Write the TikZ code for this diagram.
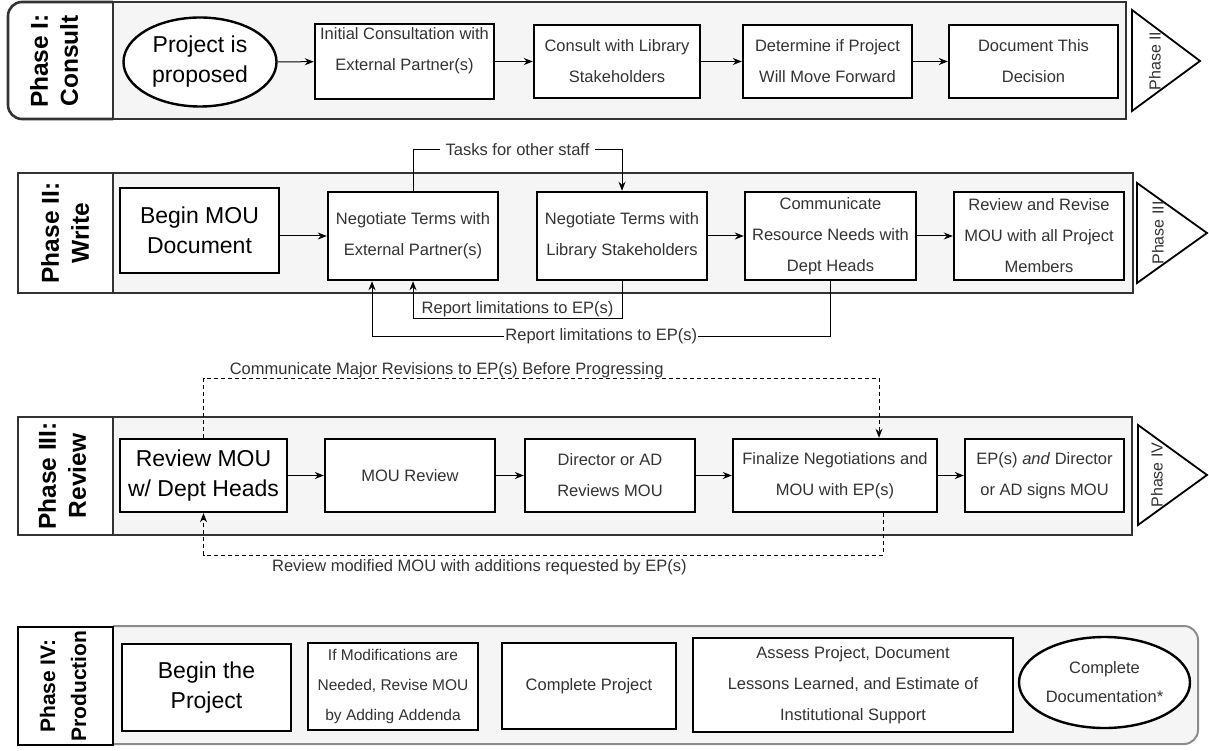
\documentclass[tikz,border=0pt]{standalone}
\usepackage{fontspec}
\setmainfont{Liberation Sans}
\usetikzlibrary{arrows.meta,shapes.geometric}

\definecolor{lanegray}{HTML}{F5F5F5}
\definecolor{txtgray}{HTML}{333333}

\begin{document}
\begin{tikzpicture}[x=1pt,y=-1pt,
    lane/.style={draw=black!80,line width=2.6pt,fill=lanegray},
    phasebox/.style={draw=black!80,line width=2.6pt,fill=white},
    phasetxt/.style={rotate=90,align=center,font=\bfseries\fontsize{24.5}{30}\selectfont},
    task/.style={draw,line width=2.4pt,fill=white,align=center,text=txtgray,inner sep=0pt,
      font=\fontsize{16.5}{31}\selectfont},
    bigtask/.style={task,text=black,font=\fontsize{23}{30}\selectfont},
    nexttri/.style={draw,line width=1.8pt,fill=white},
    nexttxt/.style={rotate=90,text=txtgray,font=\fontsize{16}{19}\selectfont},
    flow/.style={-{Stealth[length=9pt,width=7pt]},line width=1pt},
    dflow/.style={flow,dash pattern=on 4pt off 3pt},
    lbl/.style={text=txtgray,font=\fontsize{16.5}{19}\selectfont,inner sep=1pt}]
  \useasboundingbox (0,0) rectangle (1209,751);

  % Phase I
  \draw[phasebox,rounded corners=14pt] (113,2) -- (8,2) -- (8,119) -- (113,119);
  \draw[lane] (113,2) rectangle (1126,119);
  \node[phasetxt] (ph1) at (54,61) {Phase I:\\Consult};
  \node[bigtask,ellipse,minimum width=153pt,minimum height=89pt] (prop) at (200,62) {Project is\\proposed};
  \node[task,minimum width=179pt,minimum height=75pt,text depth=24pt] (init) at (404.5,61.5) {Initial Consultation with\\External Partner(s)};
  \node[task,minimum width=166pt,minimum height=73pt] (consult) at (617,61.5) {Consult with Library\\Stakeholders};
  \node[task,minimum width=169pt,minimum height=73pt] (decide) at (827.5,61.5) {Determine if Project\\Will Move Forward};
  \node[task,minimum width=169pt,minimum height=73pt] (decdoc) at (1033.5,61.5) {Document This\\Decision};
  \draw[flow] (prop) -- (init);
  \draw[flow] (init) -- (consult);
  \draw[flow] (consult) -- (decide);
  \draw[flow] (decide) -- (decdoc);
  \draw[nexttri] (1132,10) -- (1200,61) -- (1132,111) -- cycle;
  \node[nexttxt] (to2) at (1155,61) {Phase II};

  % Phase II
  \draw[phasebox] (18,173) rectangle (113,293);
  \draw[lane] (113,173) rectangle (1133,293);
  \node[phasetxt] (ph2) at (65,233) {Phase II:\\Write};
  \node[bigtask,minimum width=159pt,minimum height=85pt] (begin) at (199.5,230.5) {Begin MOU\\Document};
  \node[task,minimum width=170pt,minimum height=88pt] (neg1) at (413,236) {Negotiate Terms with\\External Partner(s)};
  \node[task,minimum width=170pt,minimum height=88pt] (neg2) at (622,236) {Negotiate Terms with\\Library Stakeholders};
  \node[task,minimum width=171pt,minimum height=88pt] (comm) at (830.5,236) {Communicate\\Resource Needs with\\Dept Heads};
  \node[task,minimum width=170pt,minimum height=88pt] (revall) at (1039,236) {Review and Revise\\MOU with all Project\\Members};
  \draw[flow] (begin.east |- neg1.west) -- (neg1.west);
  \draw[flow] (neg2) -- (comm);
  \draw[flow] (comm) -- (revall);
  \coordinate (tk) at (413,150);
  \draw[flow] (neg1.north) -- (tk) -- node[lbl,fill=white,inner xsep=6pt] (tasks) {Tasks for other staff} (tk -| neg2.north) -- (neg2.north);
  \coordinate (ri) at (413,318);
  \draw[flow] (neg2.south) |- node[lbl,pos=0.75,above] (rep1) {Report limitations to EP(s)} (ri) -- (neg1.south);
  \coordinate (ro) at (372,336);
  \draw[flow] (comm.south) |- node[lbl,pos=0.75,fill=white] (rep2) {Report limitations to EP(s)} (ro) -- (ro |- neg1.south);
  \draw[nexttri] (1137,183) -- (1207,233) -- (1137,283) -- cycle;
  \node[nexttxt] (to3) at (1158,233) {Phase III};

  % Phase III
  \draw[phasebox] (18,417) rectangle (113,535);
  \draw[lane] (113,417) rectangle (1132,535);
  \node[phasetxt] (ph3) at (62,476) {Phase III:\\Review};
  \node[bigtask,minimum width=167pt,minimum height=73pt] (revh) at (203.5,475.5) {Review MOU\\w/ Dept Heads};
  \node[task,minimum width=170pt,minimum height=73pt] (moure) at (410,475.5) {MOU Review};
  \node[task,minimum width=170pt,minimum height=73pt] (dirrev) at (610,475.5) {Director or AD\\Reviews MOU};
  \node[task,minimum width=204pt,minimum height=73pt] (fin) at (835,475.5) {Finalize Negotiations and\\MOU with EP(s)};
  \node[task,minimum width=159pt,minimum height=73pt] (signs) at (1044.5,475.5) {EP(s) \textit{and} Director\\or AD signs MOU};
  \draw[flow] (revh) -- (moure);
  \draw[flow] (moure) -- (dirrev);
  \draw[flow] (dirrev) -- (fin);
  \draw[flow] (fin) -- (signs);
  \coordinate (cm) at (879,378);
  \draw[dflow] (revh.north) |- node[lbl,pos=0.68,above=-1pt] (major) {Communicate Major Revisions to EP(s) Before Progressing} (cm) -- (cm |- fin.north);
  \coordinate (rm) at (883,555);
  \draw[dflow] (rm |- fin.south) -- (rm) -- node[lbl,pos=0.594,below=3pt] (modmou) {Review modified MOU with additions requested by EP(s)} (rm -| revh.south) -- (revh.south);
  \draw[nexttri] (1138,425) -- (1207,475) -- (1138,525) -- cycle;
  \node[nexttxt] (to4) at (1157,475) {Phase IV};

  % Phase IV
  \draw[draw=black!45,line width=2pt,fill=lanegray,rounded corners=14pt] (113,626) -- (1198,626) -- (1198,744) -- (113,744);
  \draw[phasebox,draw=black] (18,627) rectangle (113,745);
  \node[phasetxt,font=\bfseries\fontsize{21}{31}\selectfont] (ph4) at (63,686) {Phase IV:\\Production};
  \node[bigtask,minimum width=169pt,minimum height=87pt] (beginp) at (206.5,687.5) {Begin the\\Project};
  \node[task,minimum width=170pt,minimum height=87pt,font=\fontsize{15.5}{30}\selectfont] (modif) at (393,686.5) {If Modifications are\\Needed, Revise MOU\\by Adding Addenda};
  \node[task,minimum width=174pt,minimum height=86pt] (compl) at (589,686) {Complete Project};
  \node[task,minimum width=320pt,minimum height=94pt] (assess) at (853,685) {Assess Project, Document\\Lessons Learned, and Estimate of\\Institutional Support};
  \node[task,ellipse,minimum width=171pt,minimum height=91pt,font=\fontsize{16.5}{29}\selectfont] (compdoc) at (1104.5,682.5) {Complete\\Documentation*};
\end{tikzpicture}
\end{document}
